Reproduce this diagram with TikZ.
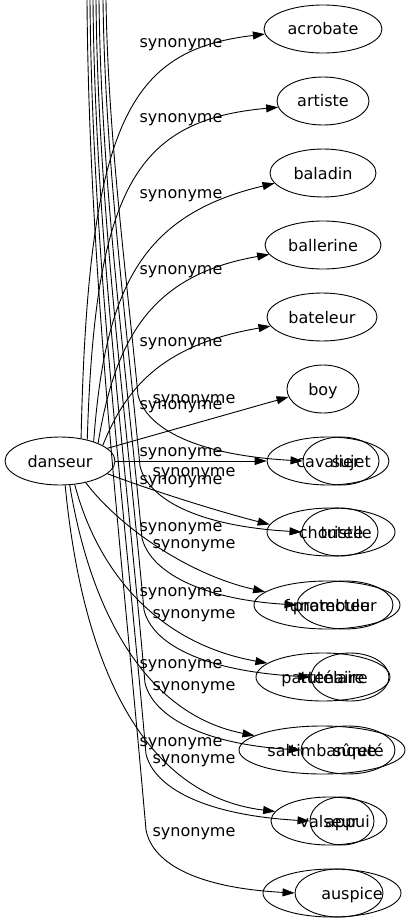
\documentclass[tikz,border=0pt]{standalone}
\usepackage{fontspec}
\setmainfont{DejaVu Sans}
\usetikzlibrary{arrows.meta,shapes.geometric}
\tikzset{
  txt/.style={font=\fontsize{16}{19}\selectfont, text height=12pt, text depth=0pt},
  ell/.style={draw, ellipse, inner sep=0pt, minimum height=48pt, line width=0.9pt, txt},
  lbl/.style={inner sep=0pt, txt},
  edge/.style={draw, line width=0.9pt, -{Triangle[length=12pt,width=8pt]}}
}
\begin{document}
\begin{tikzpicture}[x=1pt,y=-1pt]
\useasboundingbox (0,0) rectangle (412,923);
% nodes
\node[ell, minimum width=110pt] (danseur) at (60,461) {danseur};
\node[ell, minimum width=118pt] (acrobate) at (323,29) {acrobate};
\node[ell, minimum width=92pt] (artiste) at (323,101) {artiste};
\node[ell, minimum width=106pt] (baladin) at (323,173) {baladin};
\node[ell, minimum width=116pt] (ballerine) at (323,245) {ballerine};
\node[ell, minimum width=110pt] (bateleur) at (322,317) {bateleur};
\node[ell, minimum width=72pt] (boy) at (323,389) {boy};
\node[ell, minimum width=122pt] (cavalier) at (328,461) {cavalier};
\node[ell, minimum width=128pt] (choriste) at (331,532) {choriste};
\node[ell, minimum width=146pt] (funambule) at (327,605) {funambule};
\node[ell, minimum width=134pt] (partenaire) at (323,677) {partenaire};
\node[ell, minimum width=166pt] (saltimbanque) at (322,750) {saltimbanque};
\node[ell, minimum width=116pt] (valseur) at (329,821) {valseur};
\node[ell, minimum width=138pt] (auspiceA) at (332,893) {};
% inner nodes
\node[ell, minimum width=76pt] (sujet) at (341,461) {};
\node[ell, minimum width=76pt] (tutelle) at (340,532) {};
\node[ell, minimum width=96pt] (protecteur) at (345,605) {};
\node[ell, minimum width=78pt] (tutelaire) at (350,677) {};
\node[ell, minimum width=94pt] (surete) at (348,750) {};
\node[ell, minimum width=64pt] (appui) at (342,821) {};
\node[ell, minimum width=88pt] (auspice) at (339,893) {};
\node[lbl, anchor=east] (sujetT) at (371,461) {sujet};
\node[lbl, anchor=east] (tutelleT) at (372,532) {tutelle};
\node[lbl, anchor=east] (protecteurT) at (377,605) {protecteur};
\node[lbl, anchor=east] (tutelaireT) at (368,677) {tutélaire};
\node[lbl, anchor=east] (sureteT) at (384,750) {sûreté};
\node[lbl, anchor=east] (appuiT) at (370,821) {appui};
\node[lbl, anchor=east] (auspiceT) at (383,893) {auspice};
% edges from danseur
\draw[edge] (danseur.47) .. controls (88,120) and (130,50) .. (acrobate.185);
\draw[edge] (danseur.38) .. controls (95,190) and (135,120) .. (artiste.188);
\draw[edge] (danseur.30) .. controls (105,290) and (140,215) .. (baladin.192);
\draw[edge] (danseur.25) .. controls (115,340) and (150,275) .. (ballerine.190);
\draw[edge] (danseur.20) .. controls (125,390) and (160,345) .. (bateleur.190);
\draw[edge] (danseur.15) -- (boy.193);
\draw[edge] (danseur.east) -- (cavalier.west);
\draw[edge] (danseur.-15) .. controls (150,490) and (220,512) .. (choriste.173);
\draw[edge] (danseur.-40) .. controls (120,528) and (190,575) .. (funambule.168);
\draw[edge] (danseur.-58) .. controls (100,580) and (165,645) .. (partenaire.166);
\draw[edge] (danseur.-68) .. controls (92,620) and (150,715) .. (saltimbanque.168);
\draw[edge] (danseur.-78) .. controls (82,660) and (140,795) .. (valseur.170);
% edges from above
\coordinate (t1) at (106,0);
\coordinate (t2) at (103,0);
\coordinate (t3) at (99,0);
\coordinate (t4) at (96,0);
\coordinate (t5) at (93,0);
\coordinate (t6) at (90,0);
\coordinate (t7) at (87,0);
\draw[edge] (t1) .. controls (108,132) and (125,263) .. (138,395) .. controls (146,428) and (195,455) .. (sujet.west);
\draw[edge] (t2) .. controls (105,155) and (125,311) .. (140,466) .. controls (148,499) and (197,526) .. (tutelle.west);
\draw[edge] (t3) .. controls (101,179) and (125,359) .. (142,538) .. controls (150,571) and (199,599) .. (protecteur.west);
\draw[edge] (t4) .. controls (98,203) and (125,407) .. (144,610) .. controls (152,643) and (201,671) .. (tutelaire.west);
\draw[edge] (t5) .. controls (95,228) and (125,455) .. (145,683) .. controls (153,716) and (202,744) .. (surete.west);
\draw[edge] (t6) .. controls (92,251) and (124,503) .. (146,754) .. controls (154,787) and (203,815) .. (appui.west);
\draw[edge] (t7) .. controls (89,277) and (122,553) .. (146,830) .. controls (153,865) and (200,888) .. (auspice.west);
% labels, danseur edges
\node[lbl] (l1) at (181,42) {synonyme};
\node[lbl] (l2) at (181,117) {synonyme};
\node[lbl] (l3) at (181,192) {synonyme};
\node[lbl] (l4) at (181,268) {synonyme};
\node[lbl] (l5) at (181,340) {synonyme};
\node[lbl] (l6) at (181,403) {synonyme};
\node[lbl] (l7) at (181,450) {synonyme};
\node[lbl] (l8) at (181,478) {synonyme};
\node[lbl] (l9) at (181,525) {synonyme};
\node[lbl] (l10) at (181,590) {synonyme};
\node[lbl] (l11) at (181,662) {synonyme};
\node[lbl] (l12) at (181,740) {synonyme};
% labels, edges from above
\node[lbl] (m1) at (194,397) {synonyme};
\node[lbl] (m2) at (194,470) {synonyme};
\node[lbl] (m3) at (194,542) {synonyme};
\node[lbl] (m4) at (194,612) {synonyme};
\node[lbl] (m5) at (194,684) {synonyme};
\node[lbl] (m6) at (194,757) {synonyme};
\node[lbl] (m7) at (194,830) {synonyme};
\end{tikzpicture}
\end{document}
